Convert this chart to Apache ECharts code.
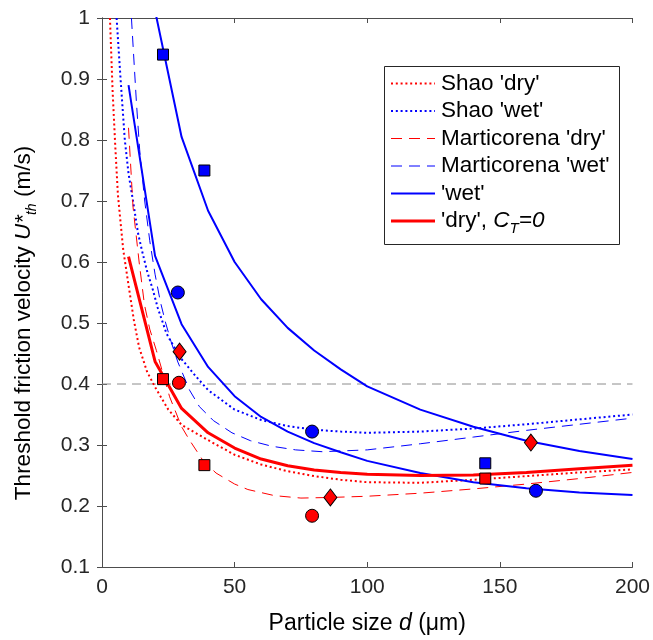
<!DOCTYPE html>
<html>
<head>
<meta charset="utf-8">
<script src="https://cdn.jsdelivr.net/npm/echarts@6/dist/echarts.min.js"></script>
<style>
html, body { margin: 0; padding: 0; background: #fff; }
#main { width: 653px; height: 640px; }
</style>
</head>
<body>
<div id="main"></div>
<script>
// curves: [d (um), U*th (m/s)]
const shaoDry = [[3,1.0],[4,0.88],[5,0.79],[6,0.71],[8,0.62],[10,0.562],[12,0.505],[14,0.46],[17,0.42],[20,0.395],
  [25,0.358],[30,0.333],[40,0.308],[50,0.284],[60,0.268],[70,0.257],[80,0.249],[90,0.243],[100,0.239],
  [120,0.238],[140,0.243],[160,0.249],[180,0.255],[200,0.26]];
const shaoWet = [[5.5,1.0],[7,0.9],[8.6,0.8],[10,0.745],[11.7,0.70],[13.6,0.647],[15,0.62],[17,0.585],[19.2,0.554],
  [21,0.525],[24.3,0.483],[29.2,0.445],[35.5,0.412],[40,0.39],[50,0.358],[60,0.341],[70,0.331],[80,0.325],
  [90,0.322],[100,0.32],[120,0.322],[140,0.327],[160,0.334],[180,0.342],[200,0.35]];
const martDry = [[10,0.82],[11.7,0.69],[14,0.6],[16,0.53],[18,0.49],[20.5,0.455],[25.5,0.379],[30,0.33],[33,0.308],
  [38,0.275],[43,0.254],[50,0.236],[55,0.227],[65,0.217],[75,0.213],[86,0.214],[100,0.216],[120,0.221],
  [140,0.228],[160,0.236],[180,0.245],[200,0.255]];
const martWet = [[11.1,1.0],[13,0.86],[14.2,0.784],[16.1,0.70],[18,0.635],[20,0.58],[22,0.535],[24,0.5],[26,0.47],
  [28.6,0.436],[33,0.39],[36.7,0.363],[42,0.34],[49,0.32],[56,0.307],[64,0.298],[73,0.292],[83,0.289],
  [100,0.292],[120,0.302],[140,0.313],[160,0.324],[180,0.334],[200,0.344]];
const wetHigh = [[20,1.012],[30,0.805],[40,0.684],[50,0.60],[60,0.539],[70,0.492],[80,0.455],[90,0.424],[100,0.396],
  [120,0.358],[140,0.33],[160,0.307],[180,0.29],[200,0.277]];
const wetLow = [[10,0.89],[20,0.61],[30,0.498],[40,0.428],[50,0.38],[60,0.346],[70,0.322],[80,0.303],[90,0.288],
  [100,0.274],[120,0.254],[140,0.239],[160,0.229],[180,0.222],[200,0.218]];
const dryCT0 = [[10,0.609],[20,0.437],[30,0.36],[40,0.32],[50,0.295],[60,0.277],[70,0.266],[80,0.259],[90,0.255],
  [100,0.252],[120,0.25],[140,0.251],[160,0.255],[180,0.261],[200,0.267]];

// measurements
const blueSquares = [[23,0.94],[38.6,0.75],[144.5,0.27]];
const redSquares = [[23,0.408],[38.6,0.267],[144.5,0.245]];
const blueCircles = [[28.6,0.55],[79.2,0.322],[163.6,0.225]];
const redCircles = [[29,0.402],[79.2,0.184]];
const redDiamonds = [[29.25,0.453],[86.1,0.214],[161.7,0.304]];

const refY = 0.4;
const xMin = 0, xMax = 200, xStep = 50;
const yMin = 0.1, yMax = 1, yStep = 0.1;

const legendLabels = ["Shao 'dry'", "Shao 'wet'", "Marticorena 'dry'", "Marticorena 'wet'", "'wet'",
  "{a|'dry', }{i|C}{s|T}{i|=0}"];
const yTitle = '{n|Threshold friction velocity }{i|U*}{s|th}{n| (m/s)}';
const xTitle = 'Particle size {i|d} (\u03bcm)';

const RED = '#ff0000', BLUE = '#0000ff';
const FONT = 'Liberation Sans, Arial, sans-serif';
const DOT = [2, 2.8], DASH = [11, 7];

function lineSeries(data, color, width, type, z) {
  return {
    type: 'line', data: data, symbol: 'none', showSymbol: false, clip: true,
    lineStyle: {color: color, width: width, type: type}, z: z || 2, silent: true
  };
}
function marks(data, symbol, size, color) {
  return {
    type: 'scatter', data: data, symbol: symbol, symbolSize: size, z: 10,
    itemStyle: {color: color, borderColor: '#000', borderWidth: 1, opacity: 1}
  };
}
function richSet(size, subSize) {
  return {
    a: {fontSize: size, fontFamily: FONT, lineHeight: 30},
    n: {fontSize: size, fontFamily: FONT, lineHeight: 30},
    i: {fontSize: size, fontFamily: FONT, fontStyle: 'italic', lineHeight: 30},
    s: {fontSize: subSize, fontFamily: FONT, fontStyle: 'italic', lineHeight: 2, verticalAlign: 'bottom'}
  };
}

let chart = echarts.init(document.getElementById('main'), null, {renderer: 'canvas'});

let axisCommon = {
  axisLine: {show: true, lineStyle: {color: '#4d4d4d', width: 1}},
  axisTick: {show: true, inside: true, length: 5, lineStyle: {color: '#4d4d4d'}},
  splitLine: {show: false}
};

// legend drawn by hand (box, samples, texts)
let gr = [{
  type: 'rect', shape: {x: 384.5, y: 66.5, width: 235, height: 178},
  style: {fill: '#fff', stroke: '#262626', lineWidth: 1}, z: 100
}];
let lgStyles = [
  {color: RED, width: 2, dash: DOT},
  {color: BLUE, width: 2, dash: DOT},
  {color: RED, width: 1, dash: DASH},
  {color: BLUE, width: 1, dash: DASH},
  {color: BLUE, width: 2, dash: null},
  {color: RED, width: 3, dash: null}
];
legendLabels.forEach((txt, i) => {
  let y = 83.5 + i * 27.5;
  gr.push({
    type: 'line', shape: {x1: 391, y1: y, x2: 435, y2: y},
    style: {stroke: lgStyles[i].color, lineWidth: lgStyles[i].width, lineDash: lgStyles[i].dash}, z: 101
  });
  gr.push({
    type: 'text', z: 101,
    style: {
      x: 441, y: y, text: txt, fill: '#000', fontSize: 22.5, fontFamily: FONT, verticalAlign: 'middle',
      rich: richSet(22.5, 15)
    }
  });
});

// y axis title (rotated)
gr.push({
  type: 'text', x: 24, y: 323, rotation: Math.PI / 2, z: 50,
  style: {
    text: yTitle, fill: '#000', fontSize: 22.5, fontFamily: FONT,
    align: 'center', verticalAlign: 'middle', rich: richSet(22.5, 14)
  }
});

chart.setOption({
  animation: false,
  backgroundColor: '#fff',
  grid: {left: 102, right: 18, top: 18, bottom: 73, containLabel: false},
  xAxis: [
    Object.assign({
      type: 'value', min: xMin, max: xMax, interval: xStep, position: 'bottom',
      axisLabel: {fontSize: 21, color: '#262626', fontFamily: FONT, margin: 10},
      name: xTitle, nameLocation: 'middle', nameGap: 45,
      nameTextStyle: {
        fontSize: 23, color: '#000', fontFamily: FONT,
        rich: {i: {fontSize: 23, fontFamily: FONT, fontStyle: 'italic'}}
      }
    }, axisCommon),
    Object.assign({
      type: 'value', min: xMin, max: xMax, interval: xStep, position: 'top',
      axisLabel: {show: false}
    }, axisCommon)
  ],
  yAxis: [
    Object.assign({
      type: 'value', min: yMin, max: yMax, interval: yStep, position: 'left',
      axisLabel: {
        fontSize: 21, color: '#262626', fontFamily: FONT, margin: 12,
        formatter: v => String(Math.round(v * 10) / 10)
      }
    }, axisCommon),
    Object.assign({
      type: 'value', min: yMin, max: yMax, interval: yStep, position: 'right',
      axisLabel: {show: false}
    }, axisCommon)
  ],
  series: [
    lineSeries([[xMin, refY], [xMax, refY]], '#8c8c8c', 1, [9, 6], 1),
    lineSeries(shaoDry, RED, 2, DOT),
    lineSeries(shaoWet, BLUE, 2, DOT),
    lineSeries(martDry, RED, 1, DASH),
    lineSeries(martWet, BLUE, 1, DASH),
    lineSeries(wetHigh, BLUE, 2),
    lineSeries(wetLow, BLUE, 2),
    lineSeries(dryCT0, RED, 3),
    marks(blueSquares, 'rect', 11, BLUE),
    marks(redSquares, 'rect', 11, RED),
    marks(blueCircles, 'circle', 13, BLUE),
    marks(redCircles, 'circle', 13, RED),
    marks(redDiamonds, 'diamond', [13, 17], RED)
  ],
  graphic: gr
});
</script>
</body>
</html>
